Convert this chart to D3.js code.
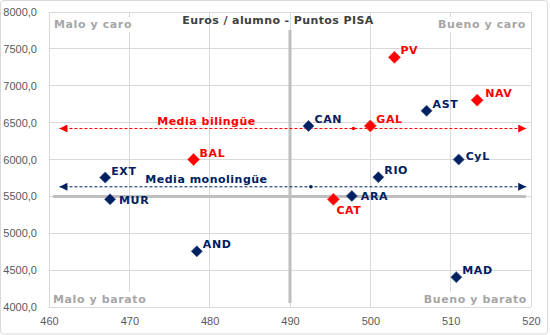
<!DOCTYPE html>
<html><head><meta charset="utf-8">
<script src="https://cdn.jsdelivr.net/npm/d3@7/dist/d3.min.js"></script>
<style>body{margin:0;background:#fff}svg{display:block}</style>
</head><body>
<svg id="c" width="550" height="335"></svg>
<script>
// ---- data ----
const regions   = ["PV","NAV","AST","CAN","GAL","CyL","BAL","EXT","MUR","AND","RIO","ARA","CAT","MAD"];
const pisa      = [503.0,513.3,507.0,492.3,500.0,511.0,478.0,467.0,467.6,478.4,501.0,497.7,495.4,510.7];
const euros     = [7385,6805,6660,6455,6455,6000,6000,5755,5460,4755,5760,5505,5460,4405];
const bilingual = [true,true,false,false,true,false,true,false,false,false,false,false,true,false];
const meanNames = ["Media bilingüe","Media monolingüe"];
const meanPisa  = [497.9,492.6];
const meanEuros = [6420,5630];
const xTicks = [460,470,480,490,500,510,520];
const yTicks = [4000,4500,5000,5500,6000,6500,7000,7500,8000];
const title = "Euros / alumno - Puntos PISA";
const quadrants = ["Malo y caro","Bueno y caro","Malo y barato","Bueno y barato"];

// ---- layout ----
const svg = d3.select("#c");
const L = 49, R = 531, T = 12, B = 307;
const x = d3.scaleLinear().domain([460,520]).range([L,R]);
const y = d3.scaleLinear().domain([4000,8000]).range([B,T]);
const RED = "#ff0000", NAVY = "#002060", GRID = "#d9d9d9";
const boldFont = "'DejaVu Sans', Verdana, sans-serif";

svg.append("rect").attr("x",0.5).attr("y",0.5).attr("width",547).attr("height",333.5)
  .attr("rx",3).attr("fill","#fff").attr("stroke","#d9d9d9");

// gridlines
svg.append("g").selectAll("line").data(xTicks).join("line")
  .attr("x1",d=>x(d)).attr("x2",d=>x(d)).attr("y1",T).attr("y2",B)
  .attr("stroke",GRID).attr("stroke-width",1).attr("shape-rendering","crispEdges");
svg.append("g").selectAll("line").data(yTicks).join("line")
  .attr("x1",L).attr("x2",R).attr("y1",d=>y(d)).attr("y2",d=>y(d))
  .attr("stroke",GRID).attr("stroke-width",1).attr("shape-rendering","crispEdges");

// axes labels
const yAxis = d3.axisLeft(y).tickValues(yTicks).tickSize(0).tickPadding(12)
  .tickFormat(d=>d3.format(".1f")(d).replace(".",","));
const gy = svg.append("g").attr("transform",`translate(${L},0)`).call(yAxis);
const xAxis = d3.axisBottom(x).tickValues(xTicks).tickSize(0).tickPadding(10).tickFormat(d3.format("d"));
const gx = svg.append("g").attr("transform",`translate(0,${B})`).call(xAxis);
[gx,gy].forEach(g=>{
  g.select(".domain").remove();
  g.selectAll("text").attr("fill","#595959").style("font-family","'Liberation Sans', Arial, sans-serif").style("font-size","11px");
});

// thick quadrant lines
svg.append("line").attr("x1",x(460.5)).attr("x2",x(519.4)).attr("y1",y(5500)).attr("y2",y(5500))
  .attr("stroke","#bfbfbf").attr("stroke-width",3);
svg.append("line").attr("x1",x(490)).attr("x2",x(490)).attr("y1",y(7755)).attr("y2",y(4055))
  .attr("stroke","#bfbfbf").attr("stroke-width",3);

// quadrant labels with white background
const qPos = [
  {px:460, py:8000, anchor:"start", dx:5, dy:16},
  {px:520, py:8000, anchor:"end", dx:-5, dy:16},
  {px:460, py:4000, anchor:"start", dx:4, dy:-4},
  {px:520, py:4000, anchor:"end", dx:-4, dy:-4}
];
quadrants.forEach((q,i)=>{
  const p = qPos[i];
  const g = svg.append("g");
  const t = g.append("text").attr("x",x(p.px)+p.dx).attr("y",y(p.py)+p.dy)
    .attr("text-anchor",p.anchor).attr("fill","#a6a6a6")
    .style("font-family",boldFont).style("font-weight","bold").style("font-size","11px")
    .style("letter-spacing","0.6px").text(q);
  const bb = t.node().getBBox();
  g.insert("rect","text").attr("x",bb.x-2).attr("y",bb.y-1).attr("width",bb.width+4).attr("height",bb.height+2).attr("fill","#fff");
});

// title
svg.append("text").attr("x",278).attr("y",24).attr("text-anchor","middle")
  .attr("fill","#404040").style("font-family",boldFont).style("font-weight","bold")
  .style("font-size","11px").style("letter-spacing","0.4px").text(title);

// mean lines
const defs = svg.append("defs");
[RED,NAVY].forEach((c,i)=>{
  defs.append("marker").attr("id","arr"+i).attr("viewBox","0 0 10 10").attr("refX",10).attr("refY",5)
    .attr("markerWidth",9).attr("markerHeight",8).attr("markerUnits","userSpaceOnUse").attr("orient","auto-start-reverse")
    .append("path").attr("d","M0,0L10,5L0,10Z").attr("fill",c);
});
meanNames.forEach((n,i)=>{
  const c = i===0?RED:NAVY;
  svg.append("line").attr("x1",x(461.3)).attr("x2",x(519.4)).attr("y1",y(meanEuros[i])).attr("y2",y(meanEuros[i]))
    .attr("stroke",c).attr("stroke-width",1).attr("stroke-dasharray","3,2")
    .attr("marker-start",`url(#arr${i})`).attr("marker-end",`url(#arr${i})`);
  svg.append("circle").attr("cx",x(meanPisa[i])).attr("cy",y(meanEuros[i])).attr("r",1.8).attr("fill",c);
  svg.append("text").attr("x",x(479.6)).attr("y",y(meanEuros[i])-4).attr("text-anchor","middle")
    .attr("fill",c).style("font-family",boldFont).style("font-weight","bold").style("font-size","11px")
    .style("letter-spacing","0.5px").text(n);
});

// points
const pts = regions.map((r,i)=>({r, px:pisa[i], e:euros[i], b:bilingual[i]}));
const labelOff = {MUR:[9,5], ARA:[9,4], CAT:[3,15], CyL:[7,0], NAV:[8,-3]};
svg.append("g").selectAll("path").data(pts).join("path")
  .attr("transform",d=>`translate(${x(d.px)},${y(d.e)})`)
  .attr("d",d=>{const s=d.b?6:5.5;return `M0,${-s}L${s},0L0,${s}L${-s},0Z`;})
  .attr("fill",d=>d.b?RED:NAVY)
  .attr("stroke",d=>d.b?"#ff4040":"#3a5590").attr("stroke-width",0.8);
svg.append("g").selectAll("text").data(pts).join("text")
  .attr("x",d=>x(d.px)+(labelOff[d.r]?labelOff[d.r][0]:6))
  .attr("y",d=>y(d.e)+(labelOff[d.r]?labelOff[d.r][1]:-3))
  .attr("fill",d=>d.b?RED:NAVY)
  .style("font-family",boldFont).style("font-weight","bold").style("font-size","11px")
  .style("letter-spacing","0.6px").text(d=>d.r);
</script>
</body></html>
